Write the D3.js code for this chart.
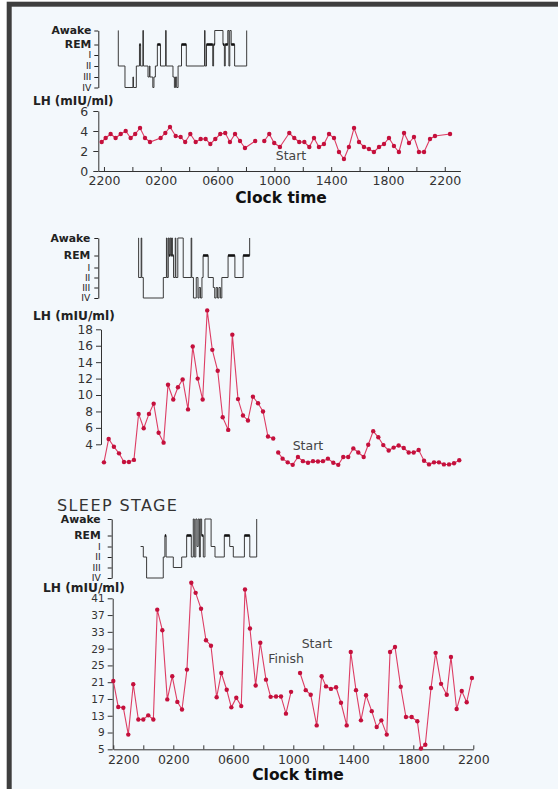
<!DOCTYPE html>
<html>
<head>
  <meta charset="utf-8">
  <title>LH and sleep stage</title>
  <script src="https://cdn.jsdelivr.net/npm/d3@7"></script>
  <style>
    body {
      margin: 0;
      padding: 0;
      background: #fff;
    }
    svg text {
      font-family: "DejaVu Sans", sans-serif;
    }
  </style>
</head>
<body>
  <div id="chart"></div>
  <script>
    // ---------- data (hours are counted from 2200) ----------
    var stageNames = ["Awake", "REM", "I", "II", "III", "IV"]
    var stageCodes = [0, 1, 2, 3, 4, 5]
    var clockTicks = [0, 4, 8, 12, 16, 20, 24]
    var clockLabels = ["2200", "0200", "0600", "1000", "1400", "1800", "2200"]
    var minorTicks = [0, 2, 4, 6, 8, 10, 12, 14, 16, 18, 20, 22, 24]

    // panel 1
    var lhTicksA = [0, 2, 4, 6]
    var sleepA = [[1.00, 0], [1.01, 3], [1.48, 5], [2.04, 4], [2.08, 5], [2.28, 3], [2.50, 1], [2.58, 3], [2.74, 0], [2.78, 3],
      [3.10, 4], [3.20, 3], [3.24, 4], [3.44, 5], [3.52, 4], [3.62, 3], [3.76, 1], [3.98, 3], [4.34, 0], [4.38, 3],
      [4.86, 4], [4.96, 5], [5.04, 4], [5.12, 5], [5.22, 3], [5.46, 1], [5.80, 3], [7.08, 0], [7.12, 3], [7.22, 1],
      [7.66, 3], [7.72, 1], [7.80, 0], [8.38, 1], [8.48, 3], [8.54, 1], [8.72, 0], [8.80, 3], [8.86, 0], [8.96, 1],
      [9.20, 3], [10.05, 0]]
    var timeA1 = [-0.16, 0.12, 0.47, 0.82, 1.18, 1.53, 1.88, 2.2, 2.54, 2.89, 3.24, 3.99, 4.32, 4.65, 5.05, 5.4, 5.72, 6.08,
      6.46, 6.81, 7.16, 7.49, 7.84, 8.19, 8.54, 8.87, 9.23, 9.58, 9.93, 10.65]
    var lhA1 = [2.9, 3.3, 3.7, 3.3, 3.7, 4.0, 3.3, 3.7, 4.3, 3.3, 2.9, 3.3, 3.8, 4.4, 3.5, 3.4, 2.9, 3.7,
      2.9, 3.2, 3.2, 2.7, 3.2, 3.7, 3.8, 2.9, 3.7, 3.0, 2.3, 3.0]
    var timeA2 = [11.29, 11.64, 11.99, 12.39, 13.05, 13.4, 13.75, 14.11, 14.46, 14.79, 15.14, 15.49, 15.85, 16.2, 16.55, 16.9,
      17.25, 17.61, 17.96, 18.31, 18.66, 19.01, 19.37, 19.72, 20.07, 20.42, 20.77, 21.13, 21.48, 21.83, 22.18, 22.54,
      22.96, 23.31, 24.37]
    var lhA2 = [3.0, 3.7, 2.8, 2.4, 3.8, 3.3, 2.9, 2.9, 2.4, 3.3, 2.4, 2.7, 3.7, 3.3, 1.9, 1.2,
      2.4, 4.3, 2.9, 2.4, 2.2, 1.9, 2.4, 2.7, 3.3, 2.5, 1.9, 3.8, 2.8, 3.4, 1.9, 1.9,
      3.2, 3.5, 3.7]

    // panel 2
    var lhTicksB = [4, 6, 8, 10, 12, 14, 16, 18]
    var sleepB = [[2.42, 0], [2.44, 3], [2.62, 0], [2.66, 3], [2.77, 5], [4.18, 3], [4.40, 0], [4.44, 3], [4.53, 0], [4.58, 1],
      [4.64, 0], [4.70, 1], [4.76, 0], [4.82, 1], [4.90, 3], [5.02, 0], [5.06, 3], [5.20, 0], [5.58, 3], [6.14, 0],
      [6.18, 3], [6.30, 5], [6.50, 3], [6.62, 5], [6.70, 4], [6.80, 5], [6.90, 3], [6.98, 1], [7.34, 3], [7.70, 4],
      [7.80, 5], [7.90, 4], [8.00, 5], [8.10, 4], [8.20, 5], [8.30, 3], [8.74, 1], [9.22, 3], [9.80, 1], [10.26, 0]]
    var timeB1 = [0, 0.33, 0.70, 1.06, 1.41, 1.76, 2.11, 2.44, 2.80, 3.17, 3.50, 3.85, 4.20, 4.51, 4.88, 5.21, 5.54, 5.92,
      6.25, 6.60, 6.95, 7.27, 7.63, 8.01, 8.36, 8.75, 9.04, 9.44, 9.79, 10.14, 10.49, 10.85, 11.2, 11.55, 11.92]
    var lhB1 = [1.8, 4.65, 3.7, 2.9, 1.85, 1.85, 2.1, 7.7, 5.95, 7.7, 8.95, 5.4, 4.2, 11.25, 9.45, 10.95, 11.9, 8.25,
      15.9, 12.0, 9.45, 20.3, 15.5, 12.95, 7.3, 5.75, 17.35, 9.5, 7.5, 6.9, 9.8, 9.0, 8.0, 4.95, 4.7]
    var timeB2 = [12.27, 12.58, 12.94, 13.29, 13.66, 14.01, 14.37, 14.72, 15.07, 15.42, 15.77, 16.15, 16.5, 16.85, 17.2, 17.56,
      17.91, 18.29, 18.61, 18.96, 19.32, 19.67, 20.05, 20.4, 20.75, 21.11, 21.46, 21.81, 22.16, 22.54, 22.89, 23.24,
      23.59, 23.94, 24.3, 24.65, 25.02]
    var lhB2 = [3.0, 2.25, 1.8, 1.5, 2.45, 1.95, 1.75, 1.95, 1.9, 1.95, 2.25, 1.75, 1.5, 2.45, 2.45, 3.5,
      3.0, 2.45, 3.95, 5.6, 4.85, 3.9, 3.25, 3.6, 3.85, 3.55, 3.0, 3.0, 3.3, 2.0, 1.55, 1.8,
      1.8, 1.55, 1.55, 1.7, 2.05]

    // panel 3
    var lhTicksC = [5, 9, 13, 17, 21, 25, 29, 33, 37, 41]
    var sleepC = [[1.82, 2], [2.0, 3], [2.22, 5], [3.33, 3], [3.44, 1], [3.52, 3], [4.0, 4], [4.56, 3], [4.89, 1], [5.2, 3],
      [5.33, 0], [5.4, 3], [5.5, 0], [5.58, 2], [5.66, 0], [5.74, 3], [5.8, 0], [5.89, 1], [6.0, 3], [6.11, 0],
      [6.52, 2], [6.78, 3], [7.4, 1], [7.76, 2], [8.0, 3], [8.74, 1], [9.1, 3], [9.56, 0]]
    var timeC1 = [0, 0.33, 0.67, 1.0, 1.33, 1.67, 2.0, 2.33, 2.67, 2.93, 3.27, 3.6, 3.93, 4.27, 4.58, 4.91, 5.2, 5.49,
      5.85, 6.18, 6.51, 6.89, 7.2, 7.56, 7.87, 8.2, 8.53, 8.78, 9.11, 9.49, 9.8, 10.18, 10.49, 10.85, 11.18, 11.51, 11.85]
    var lhC1 = [21.3, 15.1, 14.9, 8.5, 20.5, 12.1, 12.1, 13.1, 12.1, 38.3, 33.4, 16.9, 22.4, 16.3, 14.5, 24.0, 44.7, 42.3,
      38.5, 31.0, 29.7, 17.4, 23.2, 19.2, 15.0, 17.3, 15.3, 43.1, 33.8, 20.2, 30.4, 21.6, 17.5, 17.6, 17.6, 13.5, 18.7]
    var timeC2 = [12.45, 12.83, 13.16, 13.56, 13.89, 14.18, 14.51, 14.85, 15.18, 15.56, 15.83, 16.18, 16.51, 16.85, 17.23, 17.56,
      17.87, 18.23, 18.45, 18.78, 19.16, 19.51, 19.89, 20.27, 20.51, 20.8, 21.18, 21.49, 21.85, 22.23, 22.51, 22.89,
      23.23, 23.56, 23.91]
    var lhC2 = [23.2, 19.1, 18.0, 10.7, 22.4, 20.0, 19.4, 19.8, 16.1, 10.7, 28.2, 19.1, 11.9, 17.9, 14.1, 10.3,
      11.9, 8.5, 28.2, 29.4, 19.9, 12.7, 12.7, 11.7, 5.2, 6.1, 19.6, 28.0, 20.6, 18.0, 27.0, 14.6,
      18.9, 16.2, 22.0]

    // ---------- drawing ----------
    var W = 558, H = 789
    var svg = d3.select("#chart").append("svg").attr("width", W).attr("height", H)

    svg.append("rect").attr("width", W).attr("height", H).attr("fill", "#fff")
    svg.append("rect")
      .attr("x", 9.2).attr("y", 4.2)
      .attr("width", W + 20).attr("height", H + 20)
      .attr("fill", "#f3f8fc")
      .attr("stroke", "#3e3e3e")
      .attr("stroke-width", 5)

    var lineCol = "#dd3d64"
    var dotCol = "#c4103c"

    // time scales: panel 1 and 2 share one, panel 3 sits a little to the right
    var xA = d3.scaleLinear().domain([-0.42, 25.1]).range([98, 460.4])
    var xC = d3.scaleLinear().domain([0, 24]).range([113.3, 473.3])

    function styleAxis(g, size, col) {
      g.attr("font-family", "DejaVu Sans").attr("font-size", size).attr("color", col || "#333")
      return g
    }

    function sleepPanel(data, x, axisX, levels, pad) {
      var y = d3.scaleLinear().domain(stageCodes).range(levels)
      var g = svg.append("g")
        .attr("transform", "translate(" + axisX + ",0)")
        .call(d3.axisLeft(y)
          .tickValues(stageCodes)
          .tickSize(4)
          .tickSizeOuter(0)
          .tickPadding(pad)
          .tickFormat(function (d) { return stageNames[d] }))
      styleAxis(g, 10.5, "#222")
      g.selectAll(".tick text")
        .attr("font-weight", function (d) { return d < 2 ? "bold" : "normal" })
        .attr("font-size", function (d) { return d < 2 ? 10.8 : 9.2 })

      svg.append("path")
        .datum(data)
        .attr("fill", "none")
        .attr("stroke", "#3a3a3a")
        .attr("stroke-width", 1)
        .attr("d", d3.line()
          .x(function (d) { return x(d[0]) })
          .y(function (d) { return y(d[1]) })
          .curve(d3.curveStepAfter))

      // REM stretches are drawn heavier, as in the original trace
      for (var i = 0; i < data.length - 1; i++) {
        if (data[i][1] == 1) {
          svg.append("line")
            .attr("x1", x(data[i][0])).attr("x2", x(data[i + 1][0]))
            .attr("y1", y(1)).attr("y2", y(1))
            .attr("stroke", "#111")
            .attr("stroke-width", 2.6)
        }
      }
    }

    function lhSeries(times, vals, x, y) {
      var pts = d3.zip(times, vals)
      svg.append("path")
        .datum(pts)
        .attr("fill", "none")
        .attr("stroke", lineCol)
        .attr("stroke-width", 1.1)
        .attr("d", d3.line()
          .x(function (d) { return x(d[0]) })
          .y(function (d) { return y(d[1]) }))
      svg.append("g").selectAll("circle")
        .data(pts)
        .enter().append("circle")
        .attr("cx", function (d) { return x(d[0]) })
        .attr("cy", function (d) { return y(d[1]) })
        .attr("r", 2.2)
        .attr("fill", dotCol)
    }

    function lhAxis(y, ticks, axisX, size, pad) {
      var g = svg.append("g")
        .attr("transform", "translate(" + axisX + ",0)")
        .call(d3.axisLeft(y)
          .tickValues(ticks)
          .tickSize(5)
          .tickSizeOuter(0)
          .tickPadding(pad)
          .tickFormat(d3.format("d")))
      return styleAxis(g, size)
    }

    function clockAxis(x, yPos, pad) {
      var g = svg.append("g")
        .attr("transform", "translate(0," + yPos + ")")
        .call(d3.axisBottom(x)
          .tickValues(minorTicks)
          .tickSize(-4)
          .tickSizeOuter(0)
          .tickPadding(pad)
          .tickFormat(function (h) {
            var i = clockTicks.indexOf(h)
            return i < 0 ? "" : clockLabels[i]
          }))
      return styleAxis(g, 12.5)
    }

    function label(txt, x, y, size, weight, anchor, col) {
      return svg.append("text")
        .attr("x", x).attr("y", y)
        .attr("font-size", size)
        .attr("font-weight", weight || "normal")
        .attr("text-anchor", anchor || "start")
        .attr("fill", col || "#222")
        .text(txt)
    }

    // ----- panel 1 -----
    sleepPanel(sleepA, xA, 98.3, [30.5, 44.5, 55, 66, 77, 87.5], 3)
    var yA = d3.scaleLinear().domain([0, 6]).range([171, 111])
    lhAxis(yA, lhTicksA, 98.3, 12.5, 5)
    clockAxis(xA, 171, 5)
    lhSeries(timeA1, lhA1, xA, yA)
    lhSeries(timeA2, lhA2, xA, yA)
    label("LH (mIU/ml)", 33, 104.5, 12, "bold")
    label("Start", 291, 160, 12.5, "normal", "middle", "#444")
    label("Clock time", 281, 203, 15.5, "bold", "middle", "#111")

    // ----- panel 2 -----
    sleepPanel(sleepB, xA, 98.3, [238, 255.5, 267.5, 277.5, 287.5, 298], 4)
    var yB = d3.scaleLinear().domain([4, 18]).range([444.3, 329.3])
    lhAxis(yB, lhTicksB, 101, 12.2, 3)
    lhSeries(timeB1, lhB1, xA, yB)
    lhSeries(timeB2, lhB2, xA, yB)
    label("LH (mIU/ml)", 33, 319.5, 12.2, "bold")
    label("Start", 292.7, 449.5, 12.5, "normal", "start", "#444")

    // ----- panel 3 -----
    label("SLEEP STAGE", 57, 510.5, 16, "normal", "start", "#333").attr("letter-spacing", 1.4)
    sleepPanel(sleepC, xC, 111.7, [519, 535.5, 546.5, 557, 567.5, 578], 7)
    var yC = d3.scaleLinear().domain([5, 41]).range([749.3, 598.3])
    lhAxis(yC, lhTicksC, 112.7, 10.5, 3)
    var axC = clockAxis(xC, 749.3, 6)
    // first label sits clear of the value axis, as in the original
    axC.selectAll(".tick text").filter(function (d) { return d == 0 }).attr("dx", 10)
    lhSeries(timeC1, lhC1, xC, yC)
    lhSeries(timeC2, lhC2, xC, yC)
    label("LH (mIU/ml)", 43, 591.5, 12.2, "bold")
    label("Finish", 268.3, 663, 12.5, "normal", "start", "#444")
    label("Start", 301.7, 648, 12.5, "normal", "start", "#444")
    label("Clock time", 298, 780, 15.5, "bold", "middle", "#111")
  </script>
</body>
</html>
